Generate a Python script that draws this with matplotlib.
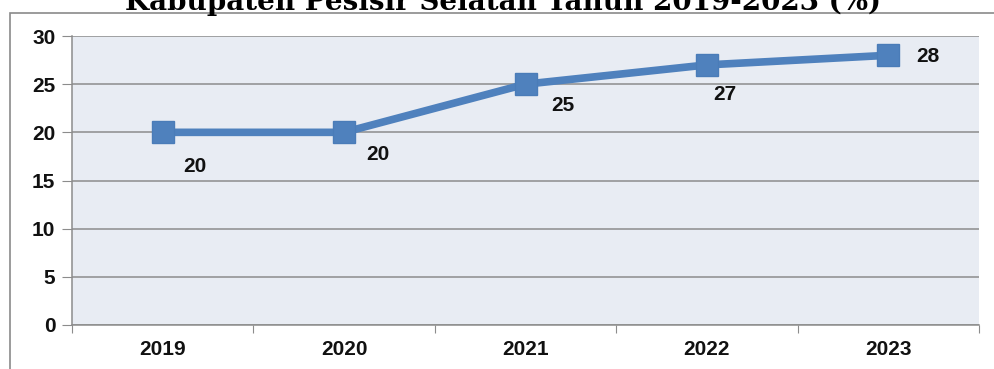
import matplotlib.pyplot as plt
from matplotlib.patches import Rectangle

years = ["2019", "2020", "2021", "2022", "2023"]
values = [20, 20, 25, 27, 28]
yticks = [0, 5, 10, 15, 20, 25, 30]
# label offsets in pixels (dx, dy) relative to each point
label_offsets = [(32, -34), (34, -22), (37, -21), (18, -30), (40, -1)]

title = "Kabupaten Pesisir Selatan Tahun 2019-2023 (%)"

W, H = 994, 369
fig = plt.figure(figsize=(W / 100, H / 100), dpi=100)

# outer chart border, runs off the right and bottom edges
fig.patches.append(Rectangle((10 / W, -0.1), 1.2, 1 - 13 / H + 0.1,
                             transform=fig.transFigure, fill=False,
                             edgecolor="#8a8a8a", linewidth=1.2))

fig.text(0.506, 1 - 10 / H, title, ha="center", va="baseline",
         fontsize=20, fontweight="bold", family="DejaVu Serif")

ax = fig.add_axes([72 / W, 1 - 325 / H, (979 - 72) / W, (325 - 36) / H])
ax.set_facecolor("#e8ecf3")

x = list(range(len(years)))
ax.plot(x, values, color="#4f81bd", linewidth=5.5, marker="s", markersize=16,
        markerfacecolor="#4f81bd", markeredgecolor="#4a7cb8", zorder=3)

for xi, v, (dx, dy) in zip(x, values, label_offsets):
    ax.annotate(str(v), (xi, v), xytext=(dx, dy), textcoords="offset pixels",
                ha="center", va="center", fontsize=15, fontweight="bold",
                family="Liberation Sans", color="#111111")

ax.set_xlim(-0.5, len(years) - 0.5)
ax.set_ylim(0, 30)
ax.set_yticks(yticks)
ax.set_yticklabels([str(t) for t in yticks])
ax.yaxis.grid(True, color="#8c8c8c", linewidth=1.1)
ax.set_axisbelow(True)

# category axis: ticks on the boundaries, labels centred
ax.set_xticks([i - 0.5 for i in range(len(years) + 1)])
ax.set_xticklabels([])
ax.set_xticks(x, minor=True)
ax.set_xticklabels(years, minor=True)
ax.tick_params(axis="x", which="major", length=6, color="#8c8c8c", direction="out")
ax.tick_params(axis="x", which="minor", length=0, pad=11)
ax.tick_params(axis="y", length=7, color="#8c8c8c", pad=5)

for lab in ax.get_xticklabels(minor=True) + ax.get_yticklabels():
    lab.set_fontsize(15)
    lab.set_fontweight("bold")
    lab.set_family("Liberation Sans")
    lab.set_color("#111111")

for side in ("top", "right"):
    ax.spines[side].set_visible(False)
for side in ("left", "bottom"):
    ax.spines[side].set_color("#8c8c8c")
    ax.spines[side].set_linewidth(1.1)

fig.savefig("out.png", dpi=100)
